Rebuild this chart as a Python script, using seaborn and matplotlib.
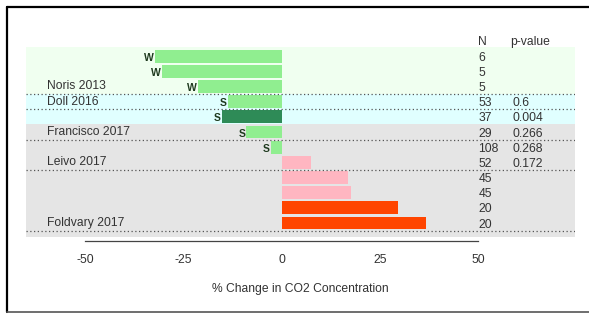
import matplotlib
matplotlib.use("Agg")
import matplotlib.pyplot as plt
import seaborn as sns
import pandas as pd
from matplotlib.lines import Line2D

# ---- data ----
rows = [f"r{i}" for i in range(12)]
pct_change = [-32.3, -30.6, -21.4, -13.7, -15.3, -9.0, -2.7, 7.5, 16.9, 17.7, 29.6, 36.6]
bar_group = ["light", "light", "light", "light", "dark", "light", "light",
             "pink", "pink", "pink", "red", "red"]
season = ["W", "W", "W", "S", "S", "S", "S", "", "", "", "", ""]
n_values = ["6", "5", "5", "53", "37", "29", "108", "52", "45", "45", "20", "20"]
p_values = ["", "", "", "0.6", "0.004", "0.266", "0.268", "0.172", "", "", "", ""]
study_labels = ["", "", "Noris 2013", "Doll 2016", "", "Francisco 2017", "",
                "Leivo 2017", "", "", "", "Foldvary 2017"]
band_spans = [(-0.6, 2.5, "#F0FFF0"), (2.5, 4.5, "#E0FFFF"), (4.5, 11.92, "#E5E5E5")]
x_ticks = [-50, -25, 0, 25, 50]

palette = {"light": "#90EE90", "dark": "#2E8B57", "pink": "#FFB6C1", "red": "#FF4500"}

df = pd.DataFrame({"row": rows, "pct": pct_change, "grp": bar_group})

sns.set_style("white")
plt.rcParams["font.family"] = ["Liberation Sans", "DejaVu Sans"]
plt.rcParams["axes.unicode_minus"] = False

W, H = 589, 314
fig = plt.figure(figsize=(W / 100, H / 100), dpi=100)
ax = fig.add_axes([26 / W, 1 - 237 / H, (575 - 26) / W, (237 - 47) / H])

# background bands
for y0, y1, c in band_spans:
    ax.axhspan(y0, y1, color=c, zorder=0, lw=0)

sns.barplot(data=df, x="pct", y="row", hue="grp", palette=palette, dodge=False,
            width=0.85, orient="h", legend=False, ax=ax, zorder=2, linewidth=0,
            saturation=1)

ax.set_xlim(-65.1, 74.6)
ax.set_ylim(11.92, -0.6)
ax.set_yticks([])
ax.set_ylabel("")

txtc = "#333333"
fs = 8.7
# season letters
for i, (v, s) in enumerate(zip(pct_change, season)):
    if s:
        ax.text(v - 0.3, i + 0.1, s, ha="right", va="center", fontsize=7.5,
                fontweight="bold", color="#1E3A1E", zorder=4)

# study labels + dotted separators
for i, lab in enumerate(study_labels):
    if lab:
        ax.text(-59.8, i, lab, ha="left", va="center", fontsize=fs, color=txtc, zorder=4)
        ax.axhline(i + 0.5, color="#555555", lw=0.9, ls=(0, (1, 2)), zorder=3)

# N and p columns
ax.text(50, -0.92, "N", ha="left", va="center", fontsize=fs, color=txtc, clip_on=False)
ax.text(58.0, -0.92, "p-value", ha="left", va="center", fontsize=fs, color=txtc, clip_on=False)
for i, (n, p) in enumerate(zip(n_values, p_values)):
    ax.text(50, i + 0.1, n, ha="left", va="center", fontsize=fs, color=txtc, zorder=4)
    if p:
        ax.text(58.8, i + 0.1, p, ha="left", va="center", fontsize=fs, color=txtc, zorder=4)

# axes styling
for s in ["left", "right", "top"]:
    ax.spines[s].set_visible(False)
ax.spines["bottom"].set_bounds(-50, 50)
ax.spines["bottom"].set_position(("outward", 3))
ax.spines["bottom"].set_color("#444444")
ax.spines["bottom"].set_linewidth(0.9)
ax.set_xticks(x_ticks)
ax.tick_params(axis="x", direction="out", length=6.5, width=0.9, color="#444444",
               labelsize=fs, labelcolor=txtc, pad=3)
ax.set_xlabel("% Change in CO2 Concentration", fontsize=fs, color=txtc, labelpad=12)

# outer frame
fig.add_artist(Line2D([7 / W, 7 / W], [1 - 7 / H, 1 - 312 / H], color="black", lw=1.6,
                      transform=fig.transFigure))
fig.add_artist(Line2D([7 / W, 1], [1 - 7 / H, 1 - 7 / H], color="black", lw=1.6,
                      transform=fig.transFigure))
fig.add_artist(Line2D([7 / W, 1], [1 - 312 / H, 1 - 312 / H], color="#555555", lw=1.2,
                      transform=fig.transFigure))

fig.savefig("out.png", dpi=100)
